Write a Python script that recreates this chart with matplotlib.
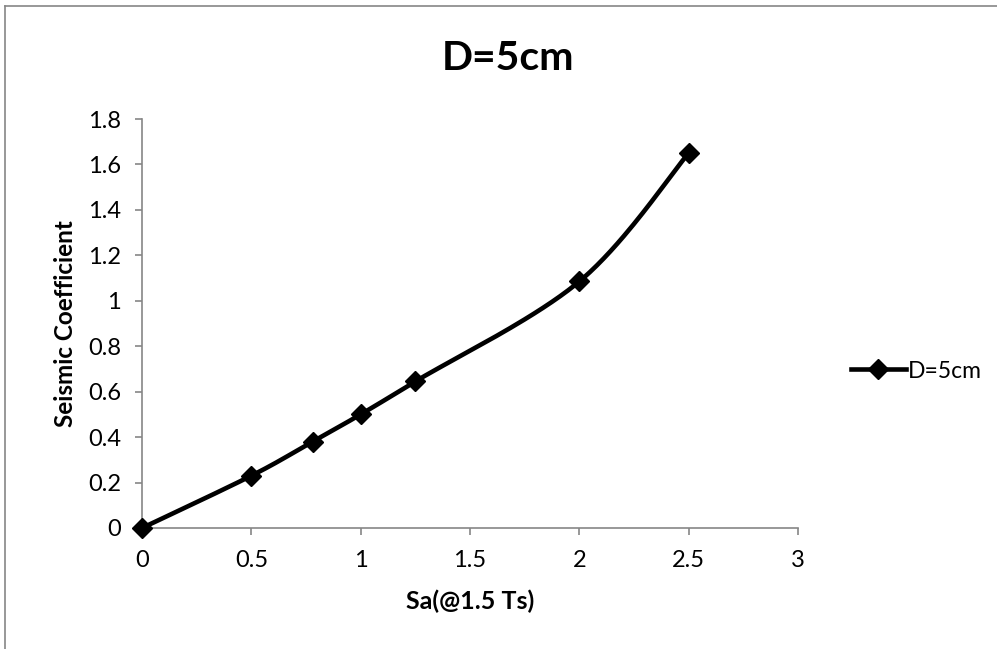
import numpy as np
import matplotlib
matplotlib.use('Agg')
from matplotlib import pyplot as plt, ticker as tk
from matplotlib.lines import Line2D

plt.rcParams['font.family'] = ['Lato', 'DejaVu Sans']

sa = [0, 0.5, 0.78, 1.0, 1.25, 2.0, 2.5]
coef = [0, 0.23, 0.38, 0.5, 0.645, 1.085, 1.65]
series_name = 'D=5cm'
x_ticks = [0, 0.5, 1, 1.5, 2, 2.5, 3]
y_ticks = [0, 0.2, 0.4, 0.6, 0.8, 1, 1.2, 1.4, 1.6, 1.8]

def smooth(x, y, n=40):
	''' spreadsheet-style smoothed line: cubic bezier through each point '''
	x, y = np.asarray(x, float), np.asarray(y, float)
	px = np.concatenate([[x[0]], x, [x[-1]]])
	py = np.concatenate([[y[0]], y, [y[-1]]])
	t = np.linspace(0, 1, n)[:, None]
	xs, ys = [], []
	for i in range(1, len(px) - 2):
		p0 = np.array([px[i], py[i]])
		p3 = np.array([px[i + 1], py[i + 1]])
		p1 = p0 + (np.array([px[i + 1], py[i + 1]]) - np.array([px[i - 1], py[i - 1]])) / 6
		p2 = p3 - (np.array([px[i + 2], py[i + 2]]) - np.array([px[i], py[i]])) / 6
		b = (1 - t) ** 3 * p0 + 3 * (1 - t) ** 2 * t * p1 + 3 * (1 - t) * t ** 2 * p2 + t ** 3 * p3
		xs.append(b[:, 0])
		ys.append(b[:, 1])
	return np.concatenate(xs), np.concatenate(ys)

W, H = 997, 649
fig = plt.figure(figsize=(W / 100, H / 100), dpi=100)
ax = fig.add_axes([142 / W, 1 - 528 / H, (798 - 142) / W, (528 - 119) / H])

# chart frame (left and top edges visible)
grey = '#868686'
fig.add_artist(Line2D([5 / W, 5 / W], [0, 1 - 6 / H], color=grey, lw=1.2))
fig.add_artist(Line2D([5 / W, 1], [1 - 6 / H, 1 - 6 / H], color=grey, lw=1.2))

sx, sy = smooth(sa, coef)
ax.plot(sx, sy, color='black', lw=3.3, solid_capstyle='round', zorder=3, clip_on=False)
ax.plot(sa, coef, ls='none', marker='D', ms=10, color='black', zorder=4, clip_on=False)

ax.set_xlim(0, 3)
ax.set_ylim(0, 1.8)
ax.set_xticks(x_ticks)
ax.set_yticks(y_ticks)
ax.xaxis.set_major_formatter(tk.FuncFormatter(lambda v, p: f'{v:g}'))
ax.yaxis.set_major_formatter(tk.FuncFormatter(lambda v, p: f'{v:g}'))
for s in ['top', 'right']:
	ax.spines[s].set_visible(False)
for s in ['left', 'bottom']:
	ax.spines[s].set_color(grey)
	ax.spines[s].set_linewidth(1.2)
ax.tick_params(direction='out', length=5, width=1.2, color=grey, labelsize=17)
ax.tick_params(axis='x', pad=11)
ax.tick_params(axis='y', pad=10)

ax.set_xlabel('Sa(@1.5 Ts)', fontsize=18, fontweight='bold', labelpad=13)
ax.set_ylabel('Seismic Coefficient', fontsize=17.5, fontweight='bold', labelpad=8)
fig.text(508 / W, 1 - 59 / H, 'D=5cm', fontsize=29.5, fontweight='bold', ha='center', va='center')

handle = Line2D([], [], color='black', lw=3.3, marker='D', ms=10)
fig.legend([handle], [series_name], loc='center left', bbox_to_anchor=(830 / W, 1 - 371 / H),
	frameon=False, fontsize=16.5, handlelength=2.4, handletextpad=0.1)

fig.savefig('out.png', dpi=100)
